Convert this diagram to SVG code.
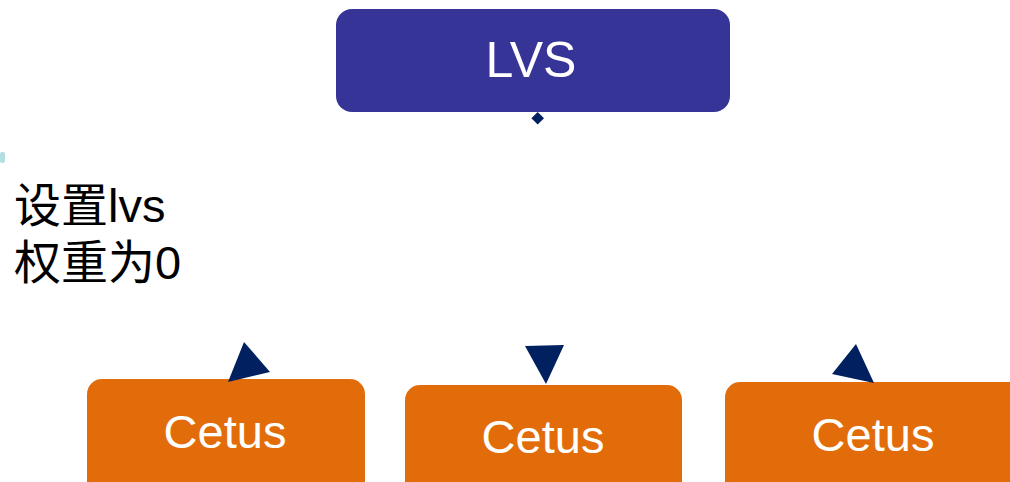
<svg xmlns="http://www.w3.org/2000/svg" width="1010" height="482" viewBox="0 0 1010 482">
<style>
.lvs{fill:#373497}
.cetus{fill:#e36c0a}
.lbl{fill:#ffffff;font-family:"Liberation Sans",Arial,sans-serif;text-anchor:middle}
.head{fill:#00205f}
.note{fill:#000000;font-family:"Liberation Sans","Noto Sans CJK SC",sans-serif;font-size:47px}
</style>
<rect x="0" y="0" width="1010" height="482" fill="#ffffff"/>
<rect x="0" y="152" width="5" height="11" rx="2" fill="#b3dfe2"/>
<g id="lvs">
<rect class="lvs" x="336" y="9" width="394" height="103" rx="16"/>
<text class="lbl" x="531" y="77" font-size="50">LVS</text>
</g>
<g id="cetus1">
<rect class="cetus" x="87" y="379" width="278" height="120" rx="15"/>
<text class="lbl" x="225" y="448" font-size="47">Cetus</text>
</g>
<g id="cetus2">
<rect class="cetus" x="405" y="385" width="277" height="120" rx="15"/>
<text class="lbl" x="543" y="453" font-size="47">Cetus</text>
</g>
<g id="cetus3">
<rect class="cetus" x="725" y="382" width="310" height="120" rx="15"/>
<text class="lbl" x="873" y="451" font-size="47">Cetus</text>
</g>
<g id="note">
<text class="note" x="14" y="222">设置lvs</text>
<text class="note" x="14" y="279">权重为0</text>
</g>
<g id="connectors">
<polygon class="head" points="537.7,112 544,118.3 537.7,124.6 531.4,118.3"/>
<polygon class="head" points="244,342 270,372 228,382"/>
<polygon class="head" points="525,346 564,345 546,384"/>
<polygon class="head" points="856,344 832,374 874,383"/>
</g>
</svg>
